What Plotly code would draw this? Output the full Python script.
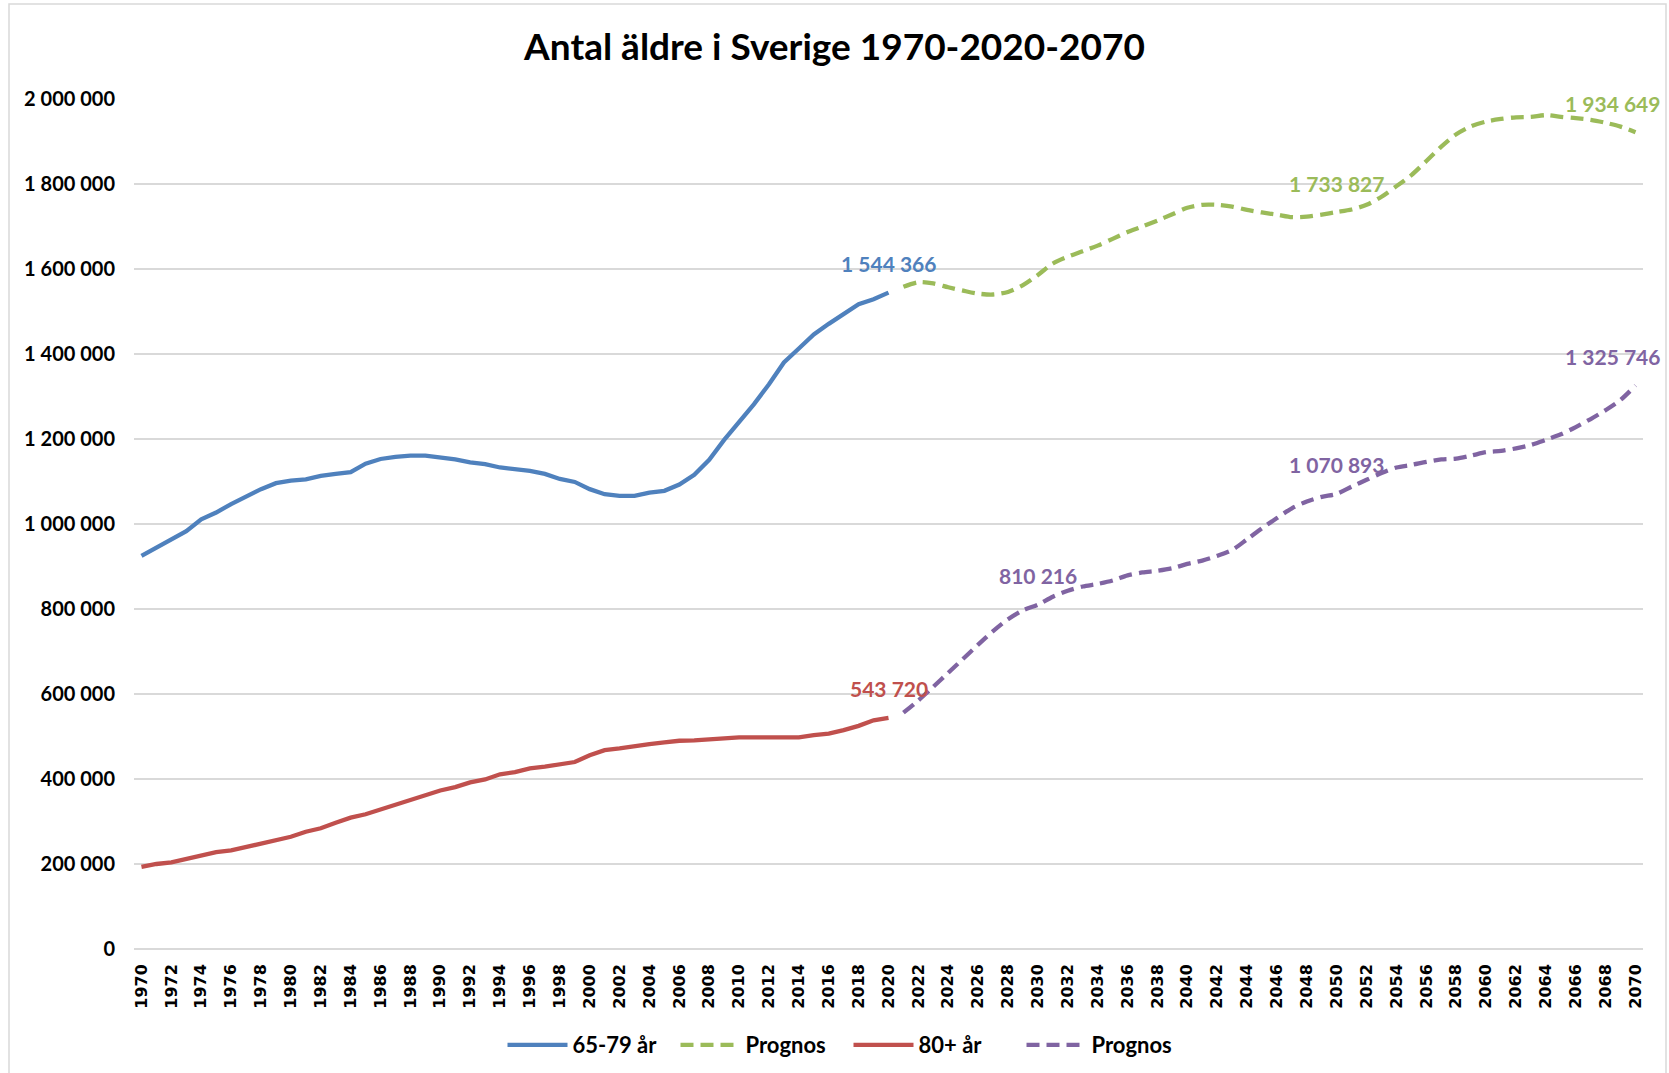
import plotly.graph_objects as go

# ---------------- data ----------------
years_hist = list(range(1970, 2021))
years_prog = list(range(2021, 2071))

age_65_79 = [925000, 945000, 964000, 983000, 1011000, 1027000, 1047000, 1064000, 1082000, 1096000,
             1102000, 1105000, 1113000, 1118000, 1122000, 1142000, 1153000, 1158000, 1161000, 1161000,
             1157000, 1152000, 1145000, 1141000, 1133000, 1129000, 1125000, 1118000, 1106000, 1099000,
             1082000, 1070000, 1066000, 1066000, 1074000, 1078000, 1093000, 1116000, 1151000, 1198000,
             1239000, 1282000, 1329000, 1380000, 1413000, 1446000, 1471000, 1495000, 1517000, 1529000,
             1544366]

age_80_plus = [193000, 200000, 204000, 212000, 220000, 228000, 232000, 240000, 249000, 257000,
               264000, 276000, 284000, 297000, 309000, 317000, 328000, 338000, 350000, 362000,
               373000, 381000, 392000, 399000, 411000, 416000, 425000, 429000, 435000, 440000,
               456000, 468000, 472000, 478000, 482000, 486000, 490000, 491000, 494000, 495000,
               498000, 498000, 498000, 498000, 498000, 503000, 507000, 515000, 525000, 538000,
               543720]

prog_65_79 = [1558000, 1569000, 1566000, 1557000, 1549000, 1542000, 1540000, 1546000, 1562000, 1586000,
              1613000, 1629000, 1642000, 1655000, 1671000, 1687000, 1700000, 1714000, 1729000, 1744000,
              1751000, 1751000, 1747000, 1739000, 1733000, 1728000, 1722000, 1723000, 1728000, 1733827,
              1740000, 1751000, 1770000, 1795000, 1821000, 1854000, 1888000, 1917000, 1936000, 1947000,
              1953000, 1957000, 1958000, 1962000, 1958000, 1955000, 1951000, 1944000, 1935000, 1922000]

prog_80_plus = [556000, 585000, 617000, 650000, 683000, 716000, 748000, 776000, 797000, 810216,
                829000, 843000, 853000, 859000, 867000, 879000, 886000, 890000, 896000, 906000,
                914000, 925000, 939000, 964000, 990000, 1014000, 1037000, 1053000, 1064000, 1070893,
                1088000, 1104000, 1120000, 1133000, 1139000, 1146000, 1152000, 1154000, 1161000, 1169000,
                1172000, 1178000, 1186000, 1198000, 1211000, 1228000, 1247000, 1268000, 1292000, 1325746]

series_names = ["65-79 år", "Prognos", "80+ år", "Prognos"]

label_years_blue = [2020]
label_text_blue = ["1 544 366"]
label_years_red = [2020]
label_text_red = ["543 720"]
label_years_green = [2050, 2070]
label_text_green = ["1 733 827", "1 934 649"]
label_years_purple = [2030, 2050, 2070]
label_text_purple = ["810 216", "1 070 893", "1 325 746"]

title_text = "Antal äldre i Sverige 1970-2020-2070"

# ---------------- styles ----------------
BLUE = "#4F81BD"
GREEN = "#9BBB59"
RED = "#C0504D"
PURPLE = "#8064A2"
GRID = "#D9D9D9"
LW = 4.3
DASH = "13px,7px"
FONT = "Lato"

fig = go.Figure()
fig.add_trace(go.Scatter(x=years_hist, y=age_65_79, name=series_names[0], mode="lines",
                         line=dict(color=BLUE, width=LW)))
fig.add_trace(go.Scatter(x=years_prog, y=prog_65_79, name=series_names[1], mode="lines",
                         line=dict(color=GREEN, width=LW, dash=DASH, shape="spline", smoothing=0.8)))
fig.add_trace(go.Scatter(x=years_hist, y=age_80_plus, name=series_names[2], mode="lines",
                         line=dict(color=RED, width=LW)))
fig.add_trace(go.Scatter(x=years_prog, y=prog_80_plus, name=series_names[3], mode="lines",
                         line=dict(color=PURPLE, width=LW, dash=DASH, shape="spline", smoothing=0.8)))

annotations = []


def add_labels(years, texts, xs, ys, color):
    for yr, txt in zip(years, texts):
        val = ys[xs.index(yr)]
        at_end = yr == xs[-1] and yr == 2070
        annotations.append(dict(
            x=yr, y=val, xref="x", yref="y", text=txt, showarrow=False,
            yshift=29, xshift=26 if at_end else 0,
            xanchor="right" if at_end else "center", yanchor="middle",
            font=dict(family=FONT, size=21, color=color, weight="bold")))


add_labels(label_years_blue, label_text_blue, years_hist, age_65_79, BLUE)
add_labels(label_years_red, label_text_red, years_hist, age_80_plus, RED)
add_labels(label_years_green, label_text_green, years_prog, prog_65_79, GREEN)
add_labels(label_years_purple, label_text_purple, years_prog, prog_80_plus, PURPLE)

W, H = 1669, 1073
L, R, T, B = 134, 26, 99, 124
pw, ph = W - L - R, H - T - B


def px_to_paper_x(px):
    return (px - L) / pw


def px_to_paper_y(py):
    return (H - B - py) / ph


fig.update_layout(
    width=W, height=H,
    margin=dict(l=L, r=R, t=T, b=B, pad=0),
    paper_bgcolor="white", plot_bgcolor="white",
    separators=", ",
    title=dict(text=title_text, x=0.5, xref="container", xanchor="center",
               y=1 - 47 / H, yref="container", yanchor="middle",
               font=dict(family=FONT, size=37, color="black", weight="bold")),
    xaxis=dict(range=[1969.5, 2070.5], tick0=1970, dtick=2, tickangle=-90,
               showgrid=False, zeroline=False, showline=False, ticks="",
               ticklabelstandoff=11,
               tickfont=dict(family="DejaVu Sans", size=16, color="black", weight="bold")),
    yaxis=dict(range=[0, 2000000], dtick=200000, tickformat=",d",
               showgrid=True, gridcolor=GRID, gridwidth=1.5,
               zeroline=True, zerolinecolor=GRID, zerolinewidth=1.5,
               showline=False, ticks="", ticklabelstandoff=18,
               tickfont=dict(family=FONT, size=20, color="black", weight="bold")),
    legend=dict(orientation="h", xref="container", yref="container",
                x=0.5 + 14 / W, xanchor="center", y=1 - 1045 / H, yanchor="middle",
                itemwidth=60, entrywidth=98,
                font=dict(family=FONT, size=22, color="black", weight="bold"),
                traceorder="normal"),
    annotations=annotations,
    shapes=[dict(type="rect", xref="paper", yref="paper",
                 x0=px_to_paper_x(9), x1=px_to_paper_x(1666),
                 y0=px_to_paper_y(1090), y1=px_to_paper_y(4),
                 line=dict(color=GRID, width=1.5), fillcolor="rgba(0,0,0,0)", layer="below")],
)

fig.write_html("out.html", config={"displayModeBar": False},
               post_script="document.body.style.margin='0';document.body.style.overflow='hidden';")
